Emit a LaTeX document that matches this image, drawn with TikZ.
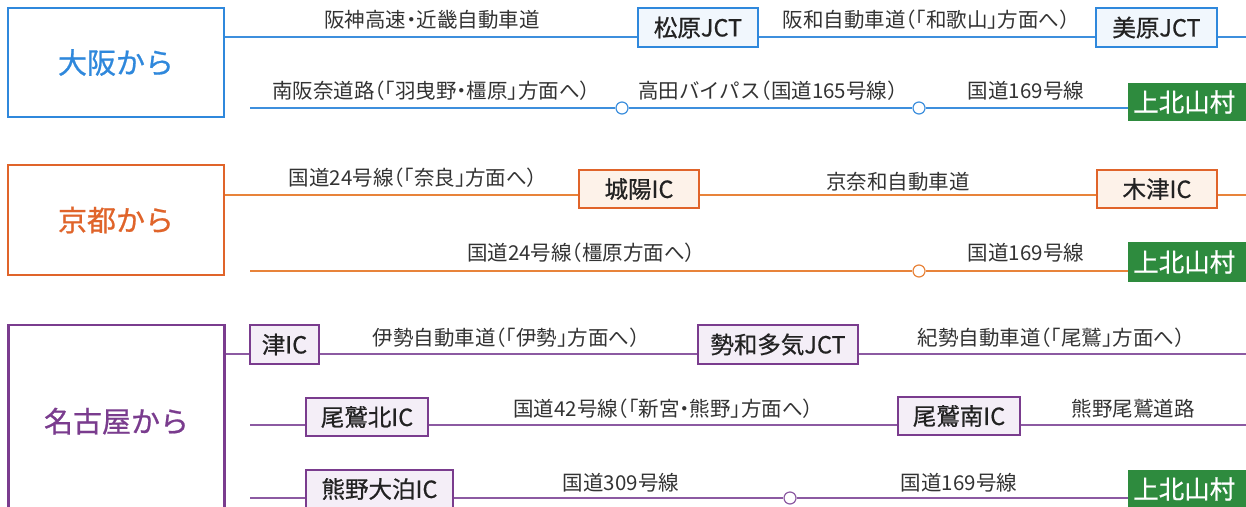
\documentclass[tikz,border=0pt]{standalone}
\usepackage{fontspec}
\newfontfamily\jp[RawFeature=+halt]{Noto Sans CJK JP}
\newfontfamily\jpm[RawFeature=+halt,FakeBold=0.7]{Noto Sans CJK JP}
\definecolor{oB}{HTML}{2F88DC}
\definecolor{oBl}{HTML}{3D8FDD}
\definecolor{oBf}{HTML}{F1F7FD}
\definecolor{kO}{HTML}{E0642A}
\definecolor{kOl}{HTML}{E8833A}
\definecolor{kOf}{HTML}{FDF2E9}
\definecolor{nP}{HTML}{7A3C8E}
\definecolor{nPl}{HTML}{8C5AA2}
\definecolor{nPf}{HTML}{F4EEF7}
\definecolor{gr}{HTML}{2E8B3E}
\definecolor{labc}{HTML}{333333}
\definecolor{icc}{HTML}{222222}
\begin{document}
\begin{tikzpicture}[x=1pt,y=-1pt,
  lab/.style={font=\jp\fontsize{20.5}{24}\selectfont, text=labc, inner sep=0pt},
  titlebox/.style={draw, fill=white, line width=2.3pt, minimum width=216pt, inner sep=0pt, font=\jpm\fontsize{29}{32}\selectfont},
  ic/.style={draw, line width=1.8pt, inner sep=0pt, minimum height=38pt, font=\jpm\fontsize{23.5}{26}\selectfont, text=icc},
  road/.style={line width=1.2pt},
  dot/.style={circle, draw, fill=white, line width=1.2pt, minimum size=12pt, inner sep=0pt},
  goal/.style={fill=gr, text=white, anchor=west, text width=122pt, align=left, inner xsep=5pt, inner ysep=0pt, minimum height=38pt, font=\jpm\fontsize{25.5}{28}\selectfont}
]
\useasboundingbox (0,0) rectangle (1246,506);
\fill[white] (0,0) rectangle (1246,506);
\begin{scope}
\clip (0,0) rectangle (1246,506);

% row reference coordinates
\coordinate (y1) at (0,37);
\coordinate (y2) at (250,108);
\coordinate (y3) at (0,195);
\coordinate (y4) at (250,271);
\coordinate (y5) at (0,354);
\coordinate (y6) at (250,425);
\coordinate (y7) at (250,498);
\coordinate (e1) at (1246,37);
\coordinate (e3) at (1246,195);
\coordinate (e5) at (1246,354);
\coordinate (e6) at (1246,425);

% ---------------- Osaka ----------------
\node[titlebox, draw=oB, text=oB, minimum height=109pt] (osaka) at (116,62.5) {大阪から};
\node[ic, draw=oB, fill=oBf, minimum width=120pt, minimum height=39pt] (matsubara) at (698,27.5) {松原JCT};
\node[ic, draw=oB, fill=oBf, minimum width=121pt, minimum height=39pt] (mihara) at (1156.5,27.5) {美原JCT};
\node[dot, draw=oBl] (c1) at (622,108) {};
\node[dot, draw=oBl] (c2) at (919,108) {};
\node[goal] (kami1) at (1128,102) {上北山村};

\draw[road, oBl] (osaka.east |- y1) -- (matsubara.west |- y1);
\draw[road, oBl] (matsubara.east |- y1) -- (mihara.west |- y1);
\draw[road, oBl] (mihara.east |- y1) -- (e1);
\draw[road, oBl] (y2) -- (c1.west);
\draw[road, oBl] (c1.east) -- (c2.west);
\draw[road, oBl] (c2.east) -- (kami1.west |- y2);

\node[lab] (l1) at (432,20) {阪神高速・近畿自動車道};
\node[lab] (l2) at (926,20) {阪和自動車道（「和歌山」方面へ）};
\node[lab] (l3) at (431,91) {南阪奈道路（「羽曳野・橿原」方面へ）};
\node[lab] (l4) at (768,91) {高田バイパス（国道165号線）};
\node[lab] (l5) at (1026,91) {国道169号線};

% ---------------- Kyoto ----------------
\node[titlebox, draw=kO, text=kO, minimum height=110pt] (kyoto) at (116,220) {京都から};
\node[ic, draw=kO, fill=kOf, minimum width=120pt] (joyo) at (639,189) {城陽IC};
\node[ic, draw=kO, fill=kOf, minimum width=120pt] (kizu) at (1157,189) {木津IC};
\node[dot, draw=kOl] (c3) at (919,271) {};
\node[goal, minimum height=40pt] (kami2) at (1128,262) {上北山村};

\draw[road, kOl] (kyoto.east |- y3) -- (joyo.west |- y3);
\draw[road, kOl] (joyo.east |- y3) -- (kizu.west |- y3);
\draw[road, kOl] (kizu.east |- y3) -- (e3);
\draw[road, kOl] (y4) -- (c3.west);
\draw[road, kOl] (c3.east) -- (kami2.west |- y4);

\node[lab] (l6) at (413,178) {国道24号線（「奈良」方面へ）};
\node[lab] (l7) at (898,182) {京奈和自動車道};
\node[lab] (l8) at (581,253) {国道24号線（橿原方面へ）};
\node[lab] (l9) at (1026,253) {国道169号線};

% ---------------- Nagoya ----------------
\node[titlebox, draw=nP, text=nP, minimum height=195pt, text depth=0pt] (nagoya) at (116.5,422.5) {\raisebox{5pt}{名古屋から}};
\node[ic, draw=nP, fill=nPf, minimum width=69pt, minimum height=39pt] (tsu) at (284.5,344.5) {津IC};
\node[ic, draw=nP, fill=nPf, minimum width=160pt, minimum height=39pt] (seiwa) at (778,344.5) {勢和多気JCT};
\node[ic, draw=nP, fill=nPf, minimum width=122pt] (owasek) at (367,417) {尾鷲北IC};
\node[ic, draw=nP, fill=nPf, minimum width=122pt] (owasen) at (959,416) {尾鷲南IC};
\node[ic, draw=nP, fill=nPf, minimum width=147pt] (kumano) at (379.5,489) {熊野大泊IC};
\node[dot, draw=nPl] (c4) at (790,498) {};
\node[goal] (kami3) at (1128,489) {上北山村};

\draw[road, nPl] (nagoya.east |- y5) -- (tsu.west |- y5);
\draw[road, nPl] (tsu.east |- y5) -- (seiwa.west |- y5);
\draw[road, nPl] (seiwa.east |- y5) -- (e5);
\draw[road, nPl] (y6) -- (owasek.west |- y6);
\draw[road, nPl] (owasek.east |- y6) -- (owasen.west |- y6);
\draw[road, nPl] (owasen.east |- y6) -- (e6);
\draw[road, nPl] (y7) -- (kumano.west |- y7);
\draw[road, nPl] (kumano.east |- y7) -- (c4.west);
\draw[road, nPl] (c4.east) -- (kami3.west |- y7);

\node[lab] (l10) at (506,338) {伊勢自動車道（「伊勢」方面へ）};
\node[lab] (l11) at (1051,338) {紀勢自動車道（「尾鷲」方面へ）};
\node[lab] (l12) at (663,409) {国道42号線（「新宮・熊野」方面へ）};
\node[lab] (l13) at (1133,409) {熊野尾鷲道路};
\node[lab] (l14) at (621,483) {国道309号線};
\node[lab] (l15) at (959,483) {国道169号線};
\end{scope}
\end{tikzpicture}
\end{document}
